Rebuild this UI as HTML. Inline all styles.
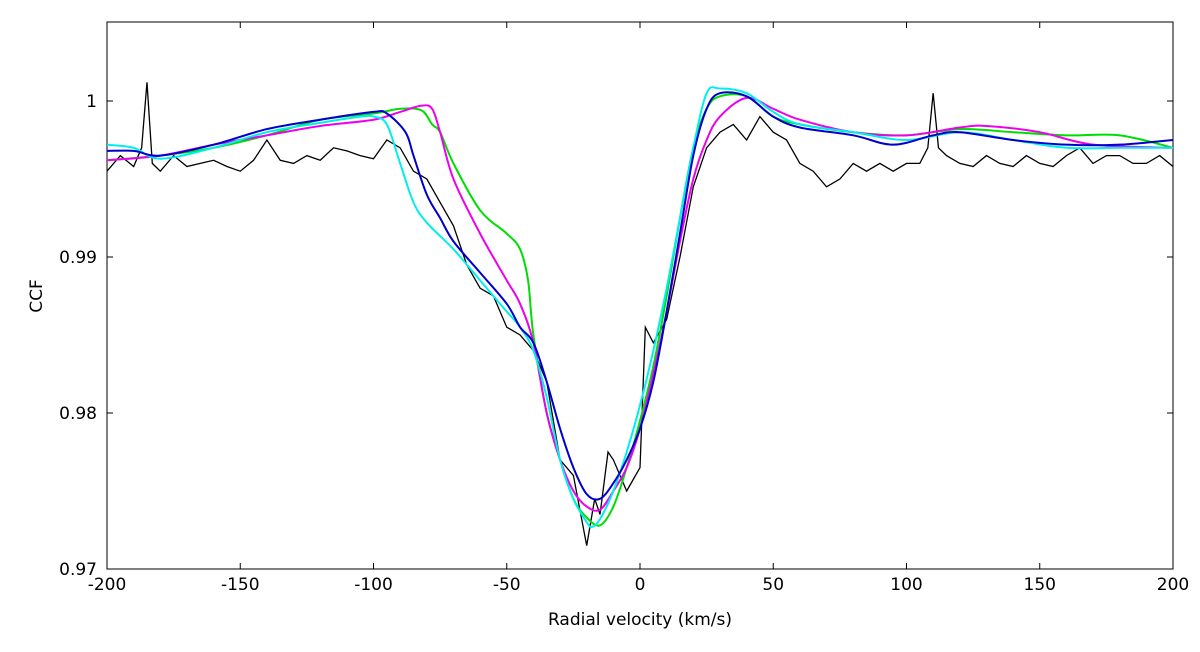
<!DOCTYPE html>
<html><head><meta charset="utf-8"><style>
body{margin:0;background:#fff;}
svg text{font-family:"DejaVu Sans","Liberation Sans",sans-serif;font-size:17px;fill:#000;}
</style></head><body>
<svg id="chart" width="1200" height="647">
<rect x="107" y="22" width="1066" height="547" fill="none" stroke="#000" stroke-width="1"/>
<g id="ticks"></g><g id="series"></g>
<text x="640" y="625" text-anchor="middle">Radial velocity (km/s)</text>
<text x="42" y="296" text-anchor="middle" transform="rotate(-90 42 296)">CCF</text>
</svg>
<script>
const xTicks=[-200,-150,-100,-50,0,50,100,150,200];
const yTicks=[0.97,0.98,0.99,1];
const yTickLabels=["0.97","0.98","0.99","1"];
const obsV=[-200,-195,-190,-187,-185,-183,-180,-175,-170,-165,-160,-155,-150,-145,-140,-135,-130,-125,-120,-115,-110,-105,-100,-95,-90,-85,-80,-75,-70,-65,-60,-55,-50,-45,-40,-35,-30,-25,-20,-17,-15,-12,-10,-5,0,2,5,10,15,20,25,30,35,40,45,50,55,60,65,70,75,80,85,90,95,100,105,108,110,112,115,120,125,130,135,140,145,150,155,160,165,170,175,180,185,190,195,200];
const obsC=[0.9955,0.9965,0.9958,0.997,1.0012,0.996,0.9955,0.9965,0.9958,0.996,0.9962,0.9958,0.9955,0.9962,0.9975,0.9962,0.996,0.9965,0.9962,0.997,0.9968,0.9965,0.9963,0.9975,0.997,0.9955,0.995,0.9935,0.992,0.9895,0.988,0.9875,0.9855,0.985,0.984,0.982,0.977,0.976,0.9715,0.9745,0.9735,0.9775,0.977,0.975,0.9765,0.9855,0.9845,0.986,0.990,0.9945,0.997,0.998,0.9985,0.9975,0.999,0.998,0.9975,0.996,0.9955,0.9945,0.995,0.996,0.9955,0.996,0.9955,0.996,0.996,0.997,1.0005,0.997,0.9965,0.996,0.9958,0.9965,0.996,0.9958,0.9965,0.996,0.9958,0.9965,0.997,0.996,0.9965,0.9965,0.996,0.996,0.9965,0.9958];
const greenV=[-200,-180,-160,-140,-120,-100,-90,-82,-78,-75,-70,-60,-50,-45,-42,-40,-35,-30,-25,-20,-15,-10,-5,0,5,10,15,20,25,30,40,50,60,80,100,120,140,160,180,200];
const greenC=[0.9962,0.9965,0.997,0.9978,0.9988,0.9992,0.9995,0.9994,0.9985,0.998,0.996,0.993,0.9915,0.9905,0.9885,0.985,0.980,0.977,0.9745,0.9733,0.9728,0.974,0.9765,0.9795,0.983,0.9875,0.9925,0.997,0.9995,1.0003,1.0003,0.999,0.9985,0.998,0.9978,0.9982,0.998,0.9978,0.9978,0.997];
const magV=[-200,-180,-160,-140,-120,-100,-90,-82,-78,-75,-70,-60,-50,-45,-40,-35,-30,-25,-20,-15,-10,-5,0,5,10,15,20,25,30,40,50,60,80,100,120,130,150,170,200];
const magC=[0.9962,0.9965,0.9972,0.9978,0.9984,0.9988,0.9993,0.9997,0.9995,0.998,0.995,0.9915,0.9885,0.987,0.9845,0.980,0.977,0.975,0.974,0.9738,0.975,0.9765,0.979,0.9825,0.9865,0.991,0.995,0.9975,0.999,1.0002,0.9995,0.9988,0.998,0.9978,0.9983,0.9984,0.998,0.9972,0.997];
const blueV=[-200,-190,-180,-160,-140,-120,-100,-95,-88,-85,-80,-75,-70,-60,-50,-45,-40,-35,-30,-25,-20,-15,-10,-5,0,5,10,15,20,25,30,40,50,60,80,95,110,120,140,160,180,200];
const blueC=[0.9968,0.9968,0.9965,0.9972,0.9982,0.9988,0.9993,0.9992,0.998,0.9965,0.994,0.9925,0.991,0.989,0.987,0.9855,0.9845,0.982,0.979,0.9765,0.9748,0.9745,0.9755,0.977,0.979,0.982,0.9865,0.9915,0.9965,0.9995,1.0005,1.0003,0.999,0.9983,0.9978,0.9972,0.9978,0.998,0.9975,0.9972,0.9972,0.9975];
const cyanV=[-200,-190,-180,-160,-140,-120,-105,-100,-95,-90,-85,-80,-70,-60,-50,-45,-40,-35,-30,-25,-20,-18,-15,-10,-5,0,5,10,15,20,25,30,40,50,60,80,100,120,140,160,180,200];
const cyanC=[0.9972,0.997,0.9963,0.997,0.998,0.9986,0.999,0.999,0.9985,0.996,0.9935,0.9922,0.9905,0.9885,0.9865,0.9855,0.984,0.981,0.977,0.9745,0.973,0.9727,0.9732,0.975,0.9775,0.9805,0.984,0.988,0.9925,0.997,1.0005,1.0008,1.0005,0.9993,0.9985,0.998,0.9975,0.998,0.9975,0.997,0.997,0.997];

const X=v=>107+(v+200)*1066/400;
const Y=c=>569-(c-0.97)*15600;
const NS='http://www.w3.org/2000/svg';
const tg=document.getElementById('ticks'), sg=document.getElementById('series');
function mk(tag,attrs,parent){const e=document.createElementNS(NS,tag);for(const k in attrs)e.setAttribute(k,attrs[k]);parent.appendChild(e);return e;}
xTicks.forEach(v=>{
  const x=X(v);
  const t1=mk('line',{x1:x,x2:x,y1:569,y2:563,stroke:'#000'},tg);
  
  
  const t2=mk('line',{x1:x,x2:x,y1:22,y2:28,stroke:'#000'},tg);
  
  
  const l=mk('text',{x:x,y:590,'text-anchor':'middle'},tg);l.textContent=String(v);
  
  
});
yTicks.forEach((c,i)=>{
  const y=Y(c);
  const t1=mk('line',{x1:107,x2:113,y1:y,y2:y,stroke:'#000'},tg);
  
  
  const t2=mk('line',{x1:1167,x2:1173,y1:y,y2:y,stroke:'#000'},tg);
  
  
  const l=mk('text',{x:97,y:y+6,'text-anchor':'end'},tg);l.textContent=yTickLabels[i];
  
  
});
function smooth(vs,cs){
  const p=vs.map((v,i)=>[X(v),Y(cs[i])]);
  let d='M'+p[0][0]+','+p[0][1];
  for(let i=0;i<p.length-1;i++){
    const p0=p[Math.max(0,i-1)],p1=p[i],p2=p[i+1],p3=p[Math.min(p.length-1,i+2)];
    const c1=[p1[0]+(p2[0]-p0[0])/6,p1[1]+(p2[1]-p0[1])/6];
    const c2=[p2[0]-(p3[0]-p1[0])/6,p2[1]-(p3[1]-p1[1])/6];
    d+=` C${c1[0]},${c1[1]} ${c2[0]},${c2[1]} ${p2[0]},${p2[1]}`;
  }
  return d;
}
const obs=mk('path',{d:'M'+obsV.map((v,i)=>X(v)+','+Y(obsC[i])).join(' L'),fill:'none',stroke:'#000','stroke-width':1.3},sg);


const g=mk('path',{d:smooth(greenV,greenC),fill:'none',stroke:'#00dd00','stroke-width':2},sg);


const m=mk('path',{d:smooth(magV,magC),fill:'none',stroke:'#ee00ee','stroke-width':2},sg);


const c=mk('path',{d:smooth(cyanV,cyanC),fill:'none',stroke:'#00eeee','stroke-width':2},sg);


const b=mk('path',{d:smooth(blueV,blueC),fill:'none',stroke:'#0000cc','stroke-width':2},sg);


</script>
</body></html>
